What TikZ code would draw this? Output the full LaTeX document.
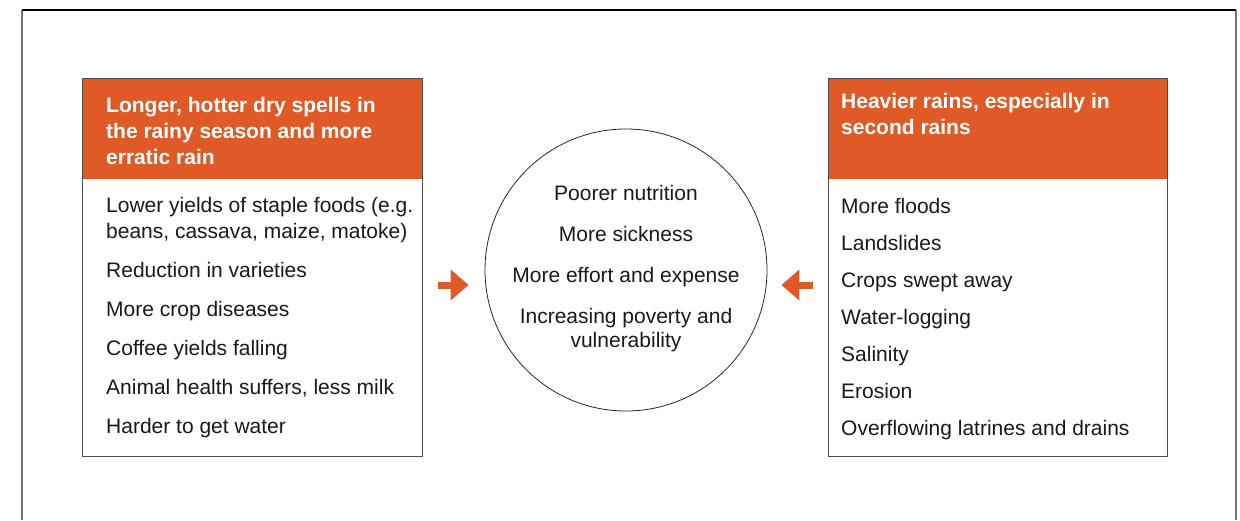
\documentclass[tikz,border=0pt]{standalone}
\usepackage{fontspec}
\setmainfont{Liberation Sans}
\usepackage{tikz}
\usetikzlibrary{arrows.meta}
\definecolor{rustorange}{RGB}{224,90,40}
\tikzset{
  frame_l/.style = {line width=1.2pt, black!55},% outer frame, sides
  box_o/.style = {rectangle, draw=black!70, line width=1pt, inner sep=0pt,
    anchor=north west},% box outline
  box_h/.style = {rectangle, fill=rustorange, inner sep=0pt,
    anchor=north west},% orange head of a box
  txt_h/.style = {align=left, inner sep=0pt, white,
    font=\fontsize{21}{26}\selectfont\bfseries, anchor=base west},% head text, base = last line
  txt_b/.style = {align=left, inner sep=0pt, black!90,
    font=\fontsize{21}{26}\selectfont, anchor=base west},% list text
  eff_c/.style = {circle, draw=black!85, line width=0.8pt,
    minimum size=282pt, inner sep=0pt},% effects circle
  eff_t/.style = {align=center, inner sep=0pt, black!90,
    font=\fontsize{21}{24}\selectfont, anchor=base},% effects text
  flow/.style = {line width=7pt, rustorange,
    -{Triangle[length=18pt,width=30pt]}}% fat orange arrow
}
\begin{document}
\begin{tikzpicture}[x=1pt,y=-1pt]
\useasboundingbox (0,0) rectangle (1240,520);
% frame, open at the bottom
\draw [frame_l] (22,520) -- (22,10);
\draw [frame_l] (1236,10) -- (1236,520);
\draw [line width=1.2pt] (22,10) -- (1236,10);

% dry spells
\node [box_h, minimum width=340pt, minimum height=101pt] (dry_h) at (82,78) {};
\node [box_o, minimum width=340pt, minimum height=378pt] (dry) at (82,78) {};
\node [txt_h] (dry_t) at (106,164) {Longer, hotter dry spells in\\the rainy season and more\\erratic rain};
\node [txt_b] (dry_l) at (106,433) {Lower yields of staple foods (e.g.\\beans, cassava, maize, matoke)\\[13pt]
  Reduction in varieties\\[13pt]
  More crop diseases\\[13pt]
  Coffee yields falling\\[13pt]
  Animal health suffers, less milk\\[13pt]
  Harder to get water};

% heavier rains
\node [box_h, minimum width=339pt, minimum height=101pt] (wet_h) at (828,78) {};
\node [box_o, minimum width=339pt, minimum height=378pt] (wet) at (828,78) {};
\node [txt_h] (wet_t) at (841,134) {Heavier rains, especially in\\second rains};
\node [txt_b] (wet_l) at (841,435) {More floods\\[11pt]
  Landslides\\[11pt]
  Crops swept away\\[11pt]
  Water-logging\\[11pt]
  Salinity\\[11pt]
  Erosion\\[11pt]
  Overflowing latrines and drains};

% effects
\node [eff_c] (eff) at (626,270) {};
\node [eff_t] (eff_t) at (626,347) {Poorer nutrition\\[17pt]More sickness\\[17pt]More effort and expense\\[17pt]Increasing poverty and\\vulnerability};

\coordinate (yl) at (0,285);
\draw [flow, shorten <=15pt, shorten >=16pt] (dry.east |- yl) -- (eff.west |- yl);
\draw [flow, shorten <=15pt, shorten >=14pt] (wet.west |- yl) -- (eff.east |- yl);
%\node at (eff.south) [below] {};
\end{tikzpicture}
\end{document}
